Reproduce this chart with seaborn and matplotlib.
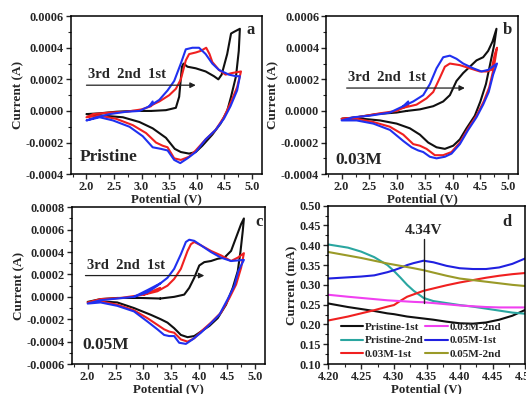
import numpy as np
import pandas as pd
import matplotlib
matplotlib.use("Agg")
import matplotlib.pyplot as plt
from matplotlib.ticker import FormatStrFormatter, AutoMinorLocator
import seaborn as sns

# ---- CV data, panels a-c: (potential V, current A) in scan order ----
A_1ST = [(3.17, 0.0), (3.44, 0.000005), (3.62, 0.00002), (3.68, 0.00009), (3.73, 0.00028),
         (3.76, 0.0003), (3.83, 0.00028), (3.98, 0.00027), (4.16, 0.00025), (4.31, 0.00022),
         (4.39, 0.0002), (4.45, 0.00023), (4.55, 0.00036), (4.62, 0.00049), (4.67, 0.0005),
         (4.78, 0.00052), (4.76, 0.00038), (4.71, 0.00022), (4.62, 0.00009), (4.55, 0.0),
         (4.43, -0.00008), (4.28, -0.00015), (4.10, -0.00022), (3.98, -0.00026), (3.86, -0.00027),
         (3.71, -0.00026), (3.6, -0.00024), (3.44, -0.00017), (3.2, -0.00011), (2.96, -0.00007),
         (2.66, -0.00004), (2.3, -0.00003), (2.0, -0.00002), (2.24, -0.000015), (2.54, -0.000005),
         (2.84, 0.0), (3.17, 0.0)]
A_2ND = [(3.2, 0.00004), (3.32, 0.00006), (3.5, 0.0001), (3.62, 0.00014), (3.71, 0.0002),
         (3.8, 0.00032), (3.86, 0.00036), (3.98, 0.00037), (4.07, 0.00038), (4.17, 0.0004),
         (4.23, 0.00036), (4.28, 0.00031), (4.4, 0.00026), (4.52, 0.00023), (4.64, 0.00024),
         (4.8, 0.00025), (4.73, 0.00015), (4.61, 0.00005), (4.49, -0.00004), (4.34, -0.00012),
         (4.16, -0.00018), (3.98, -0.00025), (3.86, -0.00029), (3.71, -0.00031), (3.59, -0.0003),
         (3.47, -0.00023), (3.38, -0.00022), (3.26, -0.0002), (3.08, -0.00014), (2.84, -0.00009),
         (2.54, -0.00005), (2.24, -0.00003), (2.0, -0.00004), (2.12, -0.00002), (2.42, -0.00001),
         (2.72, -0.000005), (3.0, 0.00001), (3.17, 0.00003), (3.22, 0.00005)]
A_3RD = [(3.14, 0.00003), (3.32, 0.00007), (3.47, 0.00013), (3.59, 0.00019), (3.71, 0.0003),
         (3.8, 0.00039), (3.92, 0.0004), (4.04, 0.0004), (4.16, 0.00036), (4.28, 0.0003),
         (4.4, 0.00026), (4.58, 0.00023), (4.71, 0.00022), (4.78, 0.00022), (4.73, 0.00013),
         (4.61, 0.00003), (4.49, -0.00005), (4.34, -0.00012), (4.16, -0.00018), (3.98, -0.00026),
         (3.83, -0.0003), (3.7, -0.00033), (3.59, -0.00031), (3.47, -0.00025), (3.35, -0.00024),
         (3.2, -0.00023), (3.02, -0.00016), (2.78, -0.0001), (2.48, -0.00006), (2.24, -0.00004),
         (2.0, -0.00006), (2.18, -0.00004), (2.42, -0.00002), (2.72, -0.000005), (2.96, 0.0),
         (3.14, 0.00003), (3.2, 0.00006)]

B_1ST = [(3.17, 0.0), (3.41, 0.00001), (3.65, 0.00003), (3.83, 0.00006), (3.95, 0.0001),
         (4.07, 0.00019), (4.19, 0.00024), (4.31, 0.00028), (4.43, 0.00032), (4.55, 0.00034),
         (4.64, 0.00038), (4.72, 0.00044), (4.79, 0.00052), (4.75, 0.00042), (4.69, 0.00032),
         (4.6, 0.00017), (4.5, 0.00006), (4.4, -0.00003), (4.25, -0.00011), (4.13, -0.00018),
         (4.01, -0.00022), (3.86, -0.00024), (3.71, -0.00023), (3.56, -0.0002), (3.41, -0.00015),
         (3.23, -0.00011), (2.99, -0.00008), (2.69, -0.00006), (2.39, -0.00005), (2.0, -0.00005),
         (2.27, -0.00004), (2.63, -0.00002), (2.99, -0.00001), (3.17, 0.0)]
B_2ND = [(3.11, 0.00002), (3.35, 0.00004), (3.53, 0.00008), (3.65, 0.00012), (3.77, 0.00021),
         (3.86, 0.00028), (3.95, 0.0003), (4.13, 0.00029), (4.31, 0.00027), (4.49, 0.00025),
         (4.61, 0.00025), (4.7, 0.00026), (4.76, 0.00036), (4.8, 0.0004), (4.74, 0.00027),
         (4.66, 0.00015), (4.56, 0.00006), (4.43, -0.00003), (4.28, -0.00011), (4.13, -0.0002),
         (3.98, -0.00026), (3.83, -0.00028), (3.68, -0.00028), (3.53, -0.00024), (3.41, -0.00022),
         (3.29, -0.00021), (3.11, -0.00015), (2.87, -0.0001), (2.57, -0.00007), (2.27, -0.00005),
         (2.0, -0.00005), (2.27, -0.00004), (2.69, -0.000015), (2.99, 0.0), (3.11, 0.00002),
         (3.2, 0.00004)]
B_3RD = [(3.11, 0.00003), (3.29, 0.00006), (3.47, 0.0001), (3.59, 0.00017), (3.71, 0.00027),
         (3.83, 0.00034), (3.95, 0.00035), (4.07, 0.00033), (4.19, 0.0003), (4.37, 0.00027),
         (4.52, 0.00025), (4.64, 0.00026), (4.8, 0.0003), (4.73, 0.00023), (4.65, 0.00012),
         (4.55, 0.00004), (4.43, -0.00004), (4.28, -0.00012), (4.13, -0.00021), (3.98, -0.00027),
         (3.86, -0.00029), (3.71, -0.0003), (3.59, -0.00029), (3.47, -0.00026), (3.38, -0.00025),
         (3.26, -0.00023), (3.11, -0.00019), (2.87, -0.00012), (2.57, -0.00008), (2.27, -0.00006),
         (2.0, -0.00006), (2.21, -0.00004), (2.51, -0.00003), (2.87, -0.00001), (3.11, 0.00003),
         (3.2, 0.00006)]

C_1ST = [(3.3, -0.000015), (3.55, 0.0), (3.73, 0.00002), (3.82, 0.00008), (3.91, 0.00017),
         (4.0, 0.00028), (4.09, 0.00031), (4.21, 0.00032), (4.33, 0.00034), (4.45, 0.00035),
         (4.57, 0.00041), (4.66, 0.00053), (4.75, 0.00065), (4.8, 0.0007), (4.78, 0.00059),
         (4.74, 0.00041), (4.69, 0.00023), (4.6, 0.00008), (4.48, -0.00007), (4.33, -0.00019),
         (4.18, -0.00026), (4.03, -0.00031), (3.91, -0.00035), (3.79, -0.00036), (3.67, -0.00034),
         (3.55, -0.00028), (3.43, -0.00023), (3.31, -0.0002), (3.13, -0.00016), (2.83, -0.0001),
         (2.53, -0.00005), (2.23, -0.00004), (2.0, -0.000045), (2.23, -0.00002), (2.53, -0.00001),
         (2.95, -0.00001), (3.3, -0.000015)]
C_2ND = [(3.01, 0.00002), (3.25, 0.00005), (3.43, 0.0001), (3.55, 0.00016), (3.67, 0.00025),
         (3.79, 0.00041), (3.85, 0.00047), (3.91, 0.00049), (4.03, 0.00046), (4.21, 0.00041),
         (4.39, 0.00037), (4.57, 0.00032), (4.69, 0.00035), (4.8, 0.00039), (4.75, 0.00026),
         (4.66, 0.00011), (4.54, -0.00001), (4.39, -0.00014), (4.21, -0.00023), (4.03, -0.00031),
         (3.91, -0.00037), (3.79, -0.0004), (3.67, -0.00038), (3.55, -0.00032), (3.46, -0.00031),
         (3.37, -0.00029), (3.25, -0.00025), (3.07, -0.00019), (2.83, -0.00012), (2.53, -0.00007),
         (2.23, -0.00004), (2.0, -0.00005), (2.23, -0.00002), (2.59, -0.00001), (3.01, 0.00002),
         (3.3, 0.00008)]
C_3RD = [(2.83, 0.0), (3.07, 0.00004), (3.25, 0.0001), (3.43, 0.00017), (3.55, 0.00025),
         (3.67, 0.00038), (3.76, 0.00049), (3.82, 0.00051), (3.91, 0.0005), (4.03, 0.00046),
         (4.21, 0.0004), (4.39, 0.00035), (4.57, 0.00032), (4.8, 0.00033), (4.7, 0.00023),
         (4.63, 0.0001), (4.51, -0.00002), (4.36, -0.00016), (4.18, -0.00025), (4.03, -0.00032),
         (3.88, -0.00038), (3.76, -0.00042), (3.64, -0.00041), (3.55, -0.00035), (3.46, -0.00035),
         (3.37, -0.00034), (3.25, -0.00029), (3.07, -0.00022), (2.83, -0.00013), (2.53, -0.00008),
         (2.23, -0.00005), (2.0, -0.00006), (2.23, -0.00003), (2.53, -0.000015), (2.83, 0.0),
         (3.07, 0.00006), (3.3, 0.00012)]

# ---- panel d: zoom 4.20-4.50 V, current in mA ----
D_V = [4.20, 4.23, 4.25, 4.27, 4.29, 4.30, 4.31, 4.32, 4.33, 4.345, 4.36, 4.38, 4.40,
       4.42, 4.44, 4.46, 4.48, 4.50]
D_PRI_1 = [0.253, 0.244, 0.239, 0.234, 0.228, 0.226, 0.223, 0.220, 0.218, 0.215, 0.212,
           0.207, 0.203, 0.202, 0.205, 0.212, 0.222, 0.237]
D_PRI_2 = [0.402, 0.394, 0.384, 0.370, 0.350, 0.335, 0.318, 0.300, 0.285, 0.267, 0.259,
           0.254, 0.249, 0.245, 0.240, 0.235, 0.230, 0.227]
D_03_1 = [0.210, 0.220, 0.228, 0.236, 0.245, 0.249, 0.260, 0.270, 0.276, 0.285, 0.291,
          0.299, 0.306, 0.312, 0.318, 0.323, 0.327, 0.330]
D_03_2 = [0.275, 0.270, 0.267, 0.264, 0.261, 0.260, 0.259, 0.258, 0.257, 0.256, 0.254,
          0.251, 0.248, 0.246, 0.244, 0.243, 0.243, 0.243]
D_05_1 = [0.316, 0.319, 0.321, 0.324, 0.332, 0.337, 0.343, 0.350, 0.355, 0.361, 0.357,
          0.348, 0.342, 0.340, 0.340, 0.344, 0.353, 0.367]
D_05_2 = [0.383, 0.374, 0.368, 0.361, 0.354, 0.351, 0.348, 0.345, 0.342, 0.337, 0.331,
          0.323, 0.316, 0.312, 0.308, 0.304, 0.300, 0.297]
D_LABELS = ["Pristine-1st", "Pristine-2nd", "0.03M-1st", "0.03M-2nd", "0.05M-1st", "0.05M-2nd"]
D_COLORS = ["#101010", "#2aa6a0", "#f02020", "#f040f0", "#2020e0", "#9a9a28"]

CYCLE_COLORS = ["#101010", "#f02020", "#2030f0"]

sns.set_theme(style="ticks")
plt.rcParams["font.family"] = ["Liberation Serif", "DejaVu Serif"]
plt.rcParams["font.weight"] = "bold"
plt.rcParams["axes.labelweight"] = "bold"

fig = plt.figure(figsize=(5.26, 3.94), dpi=100)
rects = [(0.135, 0.558, 0.363, 0.401), (0.620, 0.558, 0.365, 0.401),
         (0.137, 0.076, 0.367, 0.398), (0.624, 0.076, 0.375, 0.402)]
axes = [fig.add_axes(r) for r in rects]


def style_axis(ax):
    for s in ax.spines.values():
        s.set_linewidth(1.1)
        s.set_color("black")
    ax.tick_params(which="major", direction="out", length=3.5, width=1, labelsize=8.8, pad=1.5)
    ax.tick_params(which="minor", direction="out", length=2, width=0.8)
    ax.tick_params(top=False, right=False)
    ax.xaxis.set_minor_locator(AutoMinorLocator(2))
    ax.yaxis.set_minor_locator(AutoMinorLocator(2))
    for lab in ax.get_xticklabels() + ax.get_yticklabels():
        lab.set_fontweight("bold")


cv_sets = [(A_1ST, A_2ND, A_3RD), (B_1ST, B_2ND, B_3RD), (C_1ST, C_2ND, C_3RD)]
ylims = [(-0.0004, 0.0006), (-0.0004, 0.0006), (-0.0006, 0.0008)]
letters = ["a", "b", "c"]
letter_pos = [(4.97, 0.00051), (4.99, 0.00051), (5.08, 0.00067)]
names = ["Pristine", "0.03M", "0.05M"]
name_pos = [(1.88, -0.00029), (1.88, -0.00031), (1.9, -0.00043)]
arrows = [(2.0, 3.98, 0.000163), (2.09, 4.22, 0.000145), (1.96, 4.09, 0.00019)]

for k in range(3):
    ax = axes[k]
    for curve, col in zip(cv_sets[k], CYCLE_COLORS):
        df = pd.DataFrame(curve, columns=["V", "I"])
        sns.lineplot(data=df, x="V", y="I", sort=False, estimator=None, color=col,
                     linewidth=1.5, ax=ax)
    ax.set_xlim(1.72, 5.18)
    ax.set_ylim(*ylims[k])
    ax.set_xticks(np.arange(2.0, 5.01, 0.5))
    ax.set_yticks(np.arange(ylims[k][0], ylims[k][1] + 1e-9, 0.0002))
    ax.xaxis.set_major_formatter(FormatStrFormatter("%.1f"))
    ax.yaxis.set_major_formatter(FormatStrFormatter("%.4f"))
    ax.set_xlabel("Potential (V)", fontsize=9.3, labelpad=0)
    ax.set_ylabel("Current (A)", fontsize=9.5, labelpad=1)
    x0, x1, ya = arrows[k]
    ax.annotate("", xy=(x1, ya), xytext=(x0, ya),
                arrowprops=dict(arrowstyle="-|>", color="#202020", lw=0.9,
                                mutation_scale=8, shrinkA=0, shrinkB=0))
    span = ylims[k][1] - ylims[k][0]
    ax.text(x0 + 0.03, ya + 0.025 * span, "3rd  2nd  1st", fontsize=10.5,
            fontweight="bold", va="bottom", ha="left")
    ax.text(*letter_pos[k], letters[k], fontsize=12, fontweight="bold",
            ha="center", va="center")
    ax.text(*name_pos[k], names[k], fontsize=12.5, fontweight="bold",
            ha="left", va="center")
    style_axis(ax)

# panel d
ax = axes[3]
d_series = [D_PRI_1, D_PRI_2, D_03_1, D_03_2, D_05_1, D_05_2]
frames = []
for lab, vals in zip(D_LABELS, d_series):
    frames.append(pd.DataFrame({"V": D_V, "I": vals, "curve": lab}))
dd = pd.concat(frames, ignore_index=True)
sns.lineplot(data=dd, x="V", y="I", hue="curve", hue_order=D_LABELS,
             palette=D_COLORS, linewidth=1.5, estimator=None, ax=ax)
ax.set_xlim(4.2, 4.5)
ax.set_ylim(0.10, 0.50)
ax.set_xticks(np.arange(4.20, 4.501, 0.05))
ax.set_yticks(np.arange(0.10, 0.501, 0.05))
ax.xaxis.set_major_formatter(FormatStrFormatter("%.2f"))
ax.yaxis.set_major_formatter(FormatStrFormatter("%.2f"))
ax.set_xlabel("Potential (V)", fontsize=9.3, labelpad=0)
ax.set_ylabel("Current (mA)", fontsize=9.5, labelpad=1)
ax.plot([4.345, 4.345], [0.255, 0.415], color="#202020", lw=1)
ax.text(4.345, 0.42, "4.34V", fontsize=11, fontweight="bold", ha="center", va="bottom")
ax.text(4.472, 0.46, "d", fontsize=12, fontweight="bold", ha="center", va="center")
leg = ax.legend(loc="lower left", ncol=2, frameon=False, fontsize=8,
                handlelength=2.0, columnspacing=0.2, handletextpad=0.15,
                labelspacing=0.32, borderaxespad=0.0, bbox_to_anchor=(0.04, 0.005))
for t in leg.get_texts():
    t.set_fontweight("bold")
style_axis(ax)

fig.savefig("out.png", dpi=100)
